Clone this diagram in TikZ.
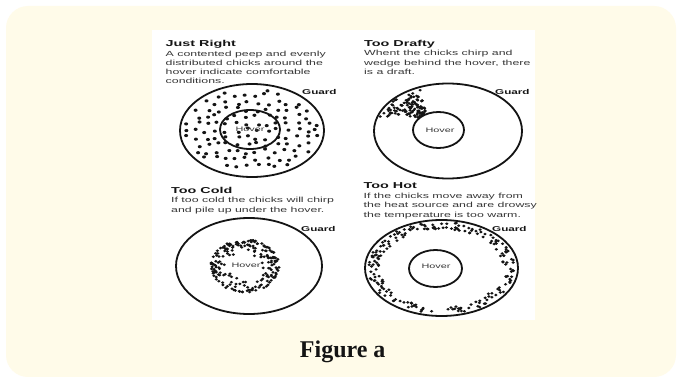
\documentclass[tikz,border=0pt]{standalone}
\usepackage{fontspec}
\setmainfont{Liberation Sans}
\newfontfamily\capfont{Liberation Serif}
\usetikzlibrary{shapes.geometric}
\definecolor{cream}{RGB}{255,251,233}
\definecolor{ink}{RGB}{20,20,20}
\definecolor{bodyink}{RGB}{55,55,55}
\newcommand\hs[1]{\scalebox{1.67}[1]{#1}}
\begin{document}
\begin{tikzpicture}[x=1pt,y=-1pt,
  title/.style={anchor=base west, inner sep=0, font=\bfseries\fontsize{8.6}{10}\selectfont, text=ink},
  body/.style={anchor=base west, inner sep=0, font=\fontsize{7.4}{9}\selectfont, text=bodyink},
  guard/.style={anchor=base west, inner sep=0, font=\bfseries\fontsize{7}{8}\selectfont, text=ink},
  hov/.style={anchor=center, inner sep=0, font=\fontsize{6.5}{8}\selectfont, text=bodyink},
  ring/.style={ellipse, draw=ink, line width=1.8pt, inner sep=0, outer sep=0},
  chick/.style={fill=ink}]
\useasboundingbox (0,0) rectangle (677,377);
\fill[white] (0,0) rectangle (677,377);
\fill[cream, rounded corners=22pt] (6,6) rectangle (676,377);
\fill[white] (152,30) rectangle (534.5,320);

% rings
\node[ring, minimum width=144pt, minimum height=93pt] (g1) at (252,130.5) {};
\node[ring, minimum width=60pt, minimum height=39pt] (hv1) at (250,129.5) {};
\node[ring, minimum width=148pt, minimum height=95pt] (g2) at (448,131) {};
\node[ring, minimum width=51pt, minimum height=36pt] (hv2) at (438.5,130) {};
\node[ring, minimum width=146pt, minimum height=96pt] (g3) at (249,266) {};
\node[ring, minimum width=153pt, minimum height=96pt] (g4) at (441.5,268) {};
\node[ring, minimum width=53pt, minimum height=37pt] (hv4) at (435.5,268.5) {};

% Just right: evenly spread chicks
\pgfmathsetseed{7}
\foreach \gx in {-65,-55,...,65}{
 \foreach \gy in {-42,-35,...,42}{
  \pgfmathsetmacro\dx{\gx+6*rnd-3}
  \pgfmathsetmacro\dy{\gy+5*rnd-2.5}
  \pgfmathsetmacro\ins{(\dx*\dx)/(67*67)+(\dy*\dy)/(42*42)<1 ? 1 : 0}
  \pgfmathsetmacro\px{252+\dx}
  \pgfmathsetmacro\py{130.5+\dy}
  \ifdim\ins pt>0.5pt \fill[chick] (\px,\py) ellipse[x radius=2pt,y radius=1.6pt];\fi
 }}

% Too drafty: wedge
\pgfmathsetseed{21}
\foreach \i in {1,...,115}{
 \pgfmathsetmacro\rr{0.48+0.49*rnd}
 \pgfmathsetmacro\hw{10+17*(\rr-0.48)/0.49}
 \pgfmathsetmacro\tt{136+\hw*(2*rnd-1)}
 \pgfmathsetmacro\px{448+74*\rr*cos(\tt)}
 \pgfmathsetmacro\py{131-47.5*\rr*sin(\tt)}
 \fill[chick] (\px,\py) ellipse[x radius=1.7pt,y radius=1.4pt];
}

% Too cold: pile under hover
\pgfmathsetseed{33}
\foreach \i in {1,...,200}{
 \pgfmathsetmacro\rr{0.3+0.8*sqrt(sqrt(rnd))}
 \pgfmathsetmacro\tt{360*rnd}
 \pgfmathsetmacro\px{245+31*\rr*cos(\tt)}
 \pgfmathsetmacro\py{266+24*\rr*sin(\tt)}
 \pgfmathsetmacro\ok{or(abs(\px-246)>15, abs(\py-265)>4.5) ? 1 : 0}
 \ifdim\ok pt>0.5pt \fill[chick] (\px,\py) ellipse[x radius=1.7pt,y radius=1.4pt];\fi
}

% Too hot: along guard
\pgfmathsetseed{45}
\foreach \i in {1,...,210}{
 \pgfmathsetmacro\rr{0.81+0.15*rnd}
 \pgfmathsetmacro\tt{360*rnd}
 \pgfmathsetmacro\px{441.5+76.5*\rr*cos(\tt)}
 \pgfmathsetmacro\py{268+48*\rr*sin(\tt)}
 \fill[chick] (\px,\py) ellipse[x radius=1.7pt,y radius=1.4pt];
}

% Panel 1 text
\node[title] (t1) at (165.5,47) {\hs{Just Right}};
\node[body] (t1a) at (165.5,56.5) {\hs{A contented peep and evenly}};
\node[body] (t1b) at (165.5,65.5) {\hs{distributed chicks around the}};
\node[body] (t1c) at (165.5,74.5) {\hs{hover indicate comfortable}};
\node[body] (t1d) at (165.5,84) {\hs{conditions.}};
\node[guard] (gd1) at (302,94.5) {\hs{Guard}};
\node[hov] (h1) at (250,129.5) {\hs{Hover}};

% Panel 2 text
\node[title] (t2) at (364,47) {\hs{Too Drafty}};
\node[body] (t2a) at (364,56) {\hs{Whent the chicks chirp and}};
\node[body] (t2b) at (364,65.5) {\hs{wedge behind the hover, there}};
\node[body] (t2c) at (364,75) {\hs{is a draft.}};
\node[guard] (gd2) at (495,95) {\hs{Guard}};
\node[hov] (h2) at (440,130) {\hs{Hover}};

% Panel 3 text
\node[title] (t3) at (171,193.5) {\hs{Too Cold}};
\node[body] (t3a) at (171,202.5) {\hs{If too cold the chicks will chirp}};
\node[body] (t3b) at (171,212) {\hs{and pile up under the hover.}};
\node[guard] (gd3) at (301,231.5) {\hs{Guard}};
\node[hov] (h3) at (246,265) {\hs{Hover}};

% Panel 4 text
\node[title] (t4) at (363.5,188) {\hs{Too Hot}};
\node[body] (t4a) at (363.5,198) {\hs{If the chicks move away from}};
\node[body] (t4b) at (363.5,207.5) {\hs{the heat source and are drowsy}};
\node[body] (t4c) at (363.5,217) {\hs{the temperature is too warm.}};
\node[guard] (gd4) at (492,231.5) {\hs{Guard}};
\node[hov] (h4) at (436,266.5) {\hs{Hover}};

% caption
\node[anchor=base, inner sep=0, font=\capfont\bfseries\fontsize{24}{28}\selectfont, text=ink] (cap) at (342.7,357.7) {Figure a};
\end{tikzpicture}
\end{document}
